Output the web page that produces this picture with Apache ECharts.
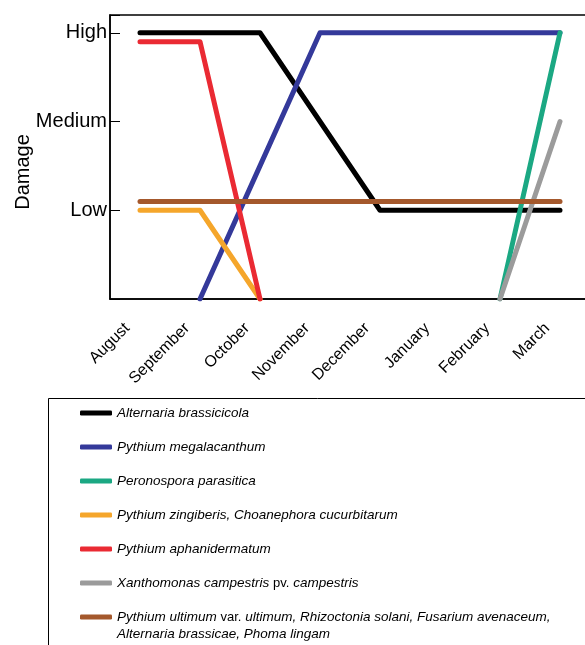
<!DOCTYPE html>
<html>
<head>
<meta charset="utf-8">
<script src="https://cdn.jsdelivr.net/npm/echarts@6/dist/echarts.min.js"></script>
<style>
  html, body { margin: 0; padding: 0; background: #fff; }
  #damageChart { width: 585px; height: 645px; }
</style>
</head>
<body>
<div id="damageChart"></div>
<script>
// months on the x axis
var months = ['August', 'September', 'October', 'November', 'December', 'January', 'February', 'March'];
// damage level names (0 = none)
var levelNames = { 1: 'Low', 2: 'Medium', 3: 'High' };

// damage per month for each pathogen (null = not present)
var alternariaBrassicicola = [3, 3, 3, 2, 1, 1, 1, 1];
var pythiumMegalacanthum   = [null, 0, 1.5, 3, 3, 3, 3, 3];
var peronospora            = [null, null, null, null, null, null, 0, 3];
var pythiumZingiberis      = [1, 1, 0, null, null, null, null, null];
var pythiumAphanidermatum  = [2.9, 2.9, 0, null, null, null, null, null];
var xanthomonas            = [null, null, null, null, null, null, 0, 2];
var pythiumUltimum         = [1.1, 1.1, 1.1, 1.1, 1.1, 1.1, 1.1, 1.1];

var seriesNames = [
  'Alternaria brassicicola',
  'Pythium megalacanthum',
  'Peronospora parasitica',
  'Pythium zingiberis, Choanephora cucurbitarum',
  'Pythium aphanidermatum',
  'Xanthomonas campestris pv. campestris',
  'Pythium ultimum var. ultimum, Rhizoctonia solani, Fusarium avenaceum, Alternaria brassicae, Phoma lingam'
];
var seriesData = [alternariaBrassicicola, pythiumMegalacanthum, peronospora, pythiumZingiberis,
  pythiumAphanidermatum, xanthomonas, pythiumUltimum];
var seriesColors = ['#000000', '#34399a', '#1ba883', '#f5a62b', '#ea2a33', '#9b9b9b', '#a4582c'];

// legend text: italic names, "pv." / "var." upright
function legendText(name) {
  var s = name.replace(' pv. ', ' {n|pv.} ').replace(' var. ', ' {n|var.} ');
  s = s.replace('avenaceum, ', 'avenaceum,\n');
  return s;
}

var chart = echarts.init(document.getElementById('damageChart'));

var series = [];
var legendData = [];
for (var i = 0; i < seriesNames.length; i++) {
  series.push({
    name: seriesNames[i],
    type: 'line',
    data: seriesData[i],
    symbol: 'none',
    color: seriesColors[i],
    lineStyle: { width: 5, cap: 'round', join: 'round' },
    emphasis: { disabled: true }
  });
  // same box height for every item, icon stays on the first text line
  var last = i === seriesNames.length - 1;
  legendData.push({
    name: seriesNames[i],
    textStyle: { padding: last ? [17, 0, 0, 0] : [17, 0, 17, 0] }
  });
}

var option = {
  animation: false,
  textStyle: { fontFamily: 'Liberation Sans, Arial, sans-serif' },
  grid: {
    left: 110,
    right: -5,
    top: 15,
    bottom: 346,
    outerBoundsMode: 'none',
    containLabel: false,
    show: true,
    borderColor: '#000',
    borderWidth: 1.5
  },
  legend: {
    orient: 'vertical',
    left: 80,
    top: 387.5,
    height: 320,
    padding: 0,
    itemWidth: 32,
    itemHeight: 5,
    itemGap: -17,
    icon: 'roundRect',
    selectedMode: false,
    data: legendData,
    formatter: legendText,
    textStyle: {
      fontSize: 13.5,
      fontStyle: 'italic',
      color: '#000',
      lineHeight: 17,
      fontFamily: 'Liberation Sans, Arial, sans-serif',
      rich: {
        n: {
          fontStyle: 'normal', fontSize: 13, color: '#000', lineHeight: 17, padding: 0,
          verticalAlign: 'middle',
          fontFamily: 'Liberation Sans, Arial, sans-serif'
        }
      }
    }
  },
  graphic: [{
    type: 'rect',
    shape: { x: 48.5, y: 398.5, width: 600, height: 300 },
    style: { fill: 'none', stroke: '#000', lineWidth: 1 },
    silent: true
  }],
  xAxis: {
    type: 'category',
    data: months,
    axisLine: { lineStyle: { color: '#000', width: 1.5 } },
    axisTick: { inside: true, length: 5, lineStyle: { color: '#000' } },
    axisLabel: { rotate: 45, margin: 14, padding: [0, 18, 0, 0], fontSize: 16, color: '#000', interval: 0 },
    splitLine: { show: false }
  },
  yAxis: {
    type: 'value',
    min: 0,
    max: 3.2,
    interval: 1,
    name: 'Damage',
    nameLocation: 'middle',
    nameGap: 77,
    nameMoveOverlap: false,
    nameTextStyle: { fontSize: 20, color: '#000', padding: [0, 30, 0, 0] },
    axisLine: { show: true, lineStyle: { color: '#000', width: 1.5 } },
    axisTick: { show: true, inside: true, length: 10, lineStyle: { color: '#000' } },
    axisLabel: {
      fontSize: 20,
      color: '#000',
      margin: 3,
      formatter: function (v) { return levelNames[v] || ''; }
    },
    splitLine: { show: false }
  },
  series: series
};

chart.setOption(option);
</script>
</body>
</html>
